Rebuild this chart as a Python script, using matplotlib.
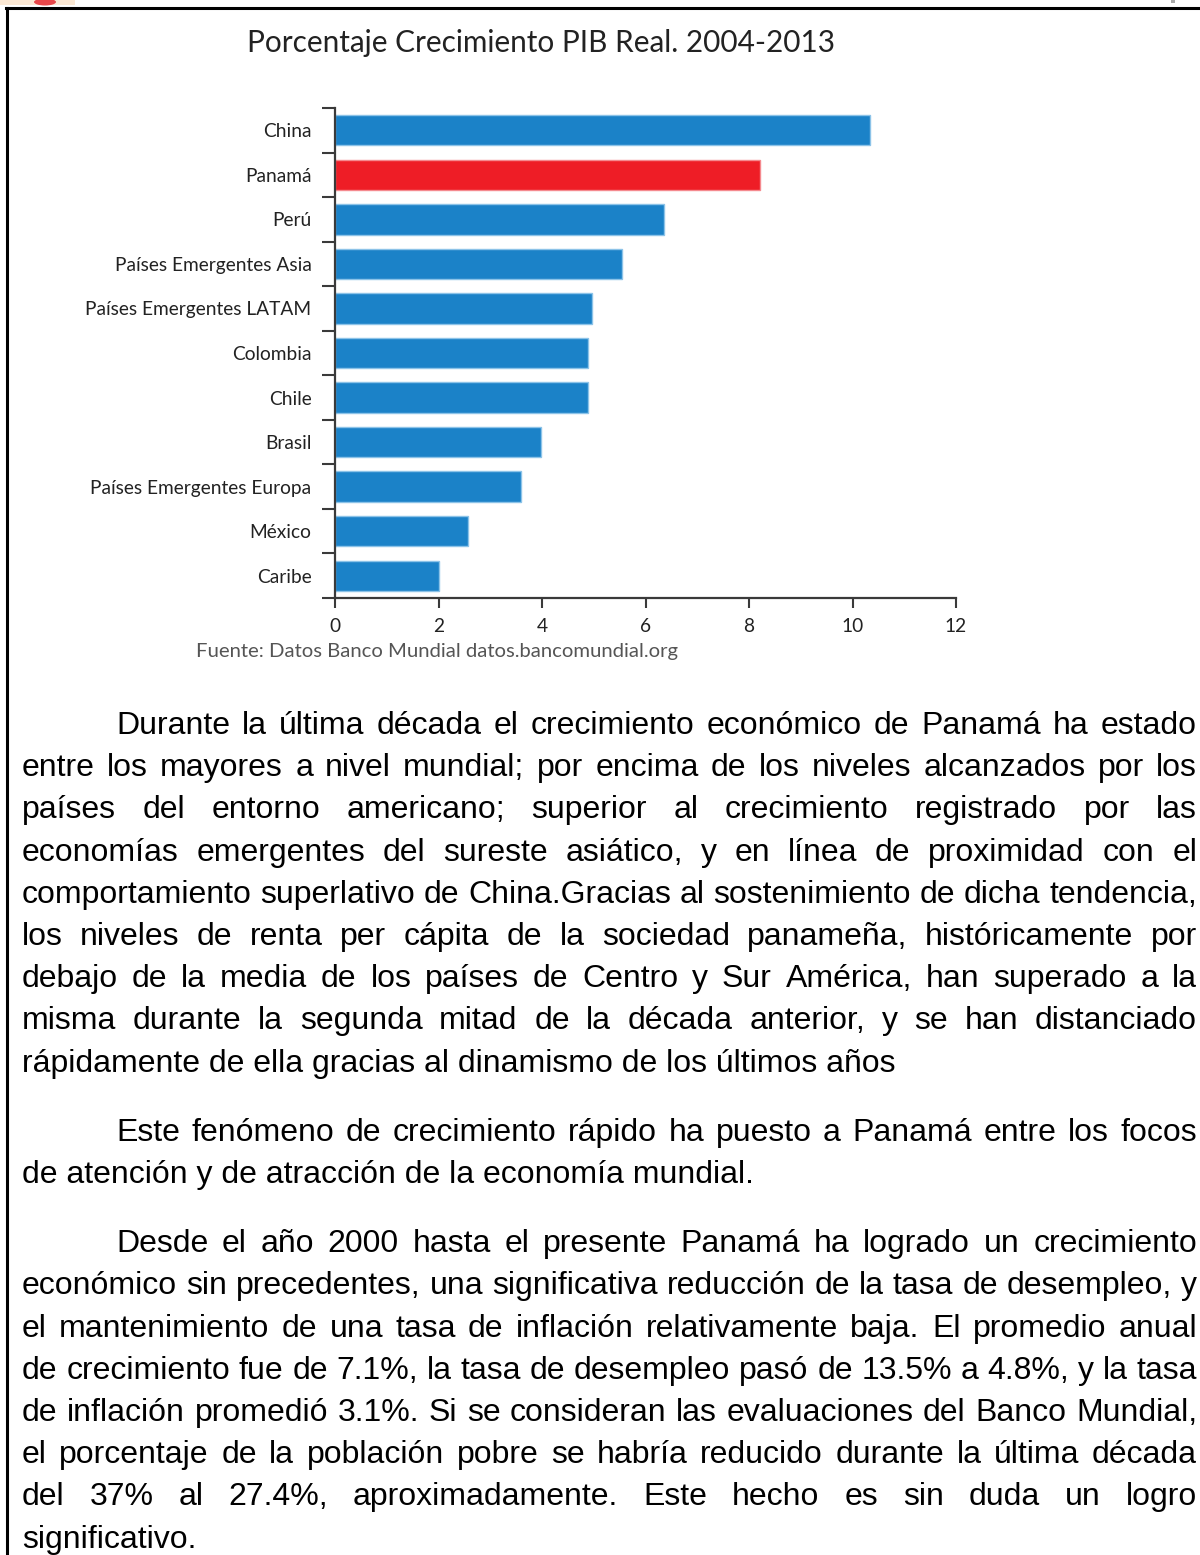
import matplotlib
matplotlib.use("Agg")
import matplotlib.pyplot as plt
from matplotlib.patches import Rectangle, Ellipse
from matplotlib.lines import Line2D

# chart data
categories = ["China", "Panamá", "Perú", "Países Emergentes Asia", "Países Emergentes LATAM",
              "Colombia", "Chile", "Brasil", "Países Emergentes Europa", "México", "Caribe"]
growth = [10.34, 8.21, 6.36, 5.55, 4.97, 4.89, 4.89, 3.98, 3.59, 2.57, 2.01]
highlight = "Panamá"
x_ticks = [0, 2, 4, 6, 8, 10, 12]

title = "Porcentaje Crecimiento PIB Real. 2004-2013"
source = "Fuente: Datos Banco Mundial datos.bancomundial.org"

# body text, one list per paragraph (line breaks as in the page)
para1 = [
    "Durante la última década el crecimiento económico de Panamá ha estado",
    "entre los mayores a nivel mundial; por encima de los niveles alcanzados por los",
    "países del entorno americano; superior al crecimiento registrado por las",
    "economías emergentes del sureste asiático, y en línea de proximidad con el",
    "comportamiento superlativo de China.Gracias al sostenimiento de dicha tendencia,",
    "los niveles de renta per cápita de la sociedad panameña, históricamente por",
    "debajo de la media de los países de Centro y Sur América, han superado a la",
    "misma durante la segunda mitad de la década anterior, y se han distanciado",
    "rápidamente de ella gracias al dinamismo de los últimos años",
]
para2 = [
    "Este fenómeno de crecimiento rápido ha puesto a Panamá entre los focos",
    "de atención y de atracción de la economía mundial.",
]
para3 = [
    "Desde el año 2000 hasta el presente Panamá ha logrado un crecimiento",
    "económico sin precedentes, una significativa reducción de la tasa de desempleo, y",
    "el mantenimiento de una tasa de inflación relativamente baja. El promedio anual",
    "de crecimiento fue de 7.1%, la tasa de desempleo pasó de 13.5% a 4.8%, y la tasa",
    "de inflación promedió 3.1%. Si se consideran las evaluaciones del Banco Mundial,",
    "el porcentaje de la población pobre se habría reducido durante la última década",
    "del 37% al 27.4%, aproximadamente. Este hecho es sin duda un logro",
    "significativo.",
]

W, H = 1200, 1555
fig = plt.figure(figsize=(W / 100, H / 100), dpi=100)
fig.patch.set_facecolor("white")


def fx(px):
    return px / W


def fy(py):
    return 1 - py / H


# page border and logo scrap at the top
fig.add_artist(Line2D([fx(7), fx(7)], [fy(8), fy(H + 5)], color="black", lw=2.2))
fig.add_artist(Line2D([fx(6), fx(W + 5)], [fy(8), fy(8)], color="black", lw=2.2))
fig.add_artist(Rectangle((fx(0), fy(5)), fx(75), 5 / H, color="#fbe8d4", lw=0))
fig.add_artist(Ellipse((fx(45), fy(2)), 22 / W, 7 / H, color="#e8474a", lw=0))
fig.add_artist(Rectangle((fx(1171), fy(3)), 4 / W, 3 / H, color="#aaaaaa", lw=0))

# ---- bar chart ----
ax = fig.add_axes([fx(335), fy(598), fx(956) - fx(335), (598 - 108) / H])
ypos = list(range(len(categories)))
colors = ["#ee1d26" if c == highlight else "#1b82c8" for c in categories]
edges = ["#f58a8f" if c == highlight else "#8cc3e8" for c in categories]
ax.barh(ypos, growth, height=0.68, color=colors, edgecolor=edges, linewidth=1)
ax.set_xlim(0, 12)
ax.set_ylim(len(categories) - 0.5, -0.5)

axis_col = "#3a3a3a"
for s in ["top", "right"]:
    ax.spines[s].set_visible(False)
for s in ["left", "bottom"]:
    ax.spines[s].set_color(axis_col)
    ax.spines[s].set_linewidth(1.6)

ax.set_xticks(x_ticks)
ax.set_xticklabels([str(t) for t in x_ticks], family="Lato", fontsize=13.8, color="#222222")
ax.tick_params(axis="x", length=7.2, width=1.5, color=axis_col, pad=7)

ax.set_yticks([i - 0.5 for i in range(len(categories) + 1)])
ax.set_yticklabels([])
ax.tick_params(axis="y", which="major", length=9.4, width=1.5, color=axis_col)
ax.set_yticks(ypos, minor=True)
ax.set_yticklabels(categories, minor=True, family="Lato", fontsize=13.8, color="#222222")
ax.tick_params(axis="y", which="minor", length=0, pad=17)

fig.text(fx(541), fy(43), title, family="Lato", fontsize=21.4, color="#222222",
         ha="center", va="center")
fig.text(fx(196), fy(652), source, family="Lato", fontsize=14.6, color="#555555",
         ha="left", va="center")

# ---- justified body text ----
renderer = fig.canvas.get_renderer()
body_font = dict(family="Liberation Sans", fontsize=23, color="black")
left_px, right_px, indent_px = 22, 1197, 116
line_h, para_gap = 42.2, 27
first_line_y = 723


def draw_line(text, x0, y, justify):
    if not justify:
        fig.text(fx(x0), fy(y + 11), text, ha="left", va="baseline", **body_font)
        return
    words = text.split(" ")
    objs = [fig.text(0, fy(y + 11), w, ha="left", va="baseline", **body_font) for w in words]
    widths = [o.get_window_extent(renderer).width for o in objs]
    gap = (right_px - x0 - sum(widths)) / (len(words) - 1)
    x = x0
    for o, w in zip(objs, widths):
        o.set_x(fx(x))
        x += w + gap


row = 0
for p, para in enumerate([para1, para2, para3]):
    for i, line in enumerate(para):
        y = first_line_y + row * line_h + p * para_gap
        x0 = indent_px if i == 0 else left_px
        draw_line(line, x0, y, justify=(i < len(para) - 1))
        row += 1

fig.savefig("out.png", dpi=100, facecolor="white")
